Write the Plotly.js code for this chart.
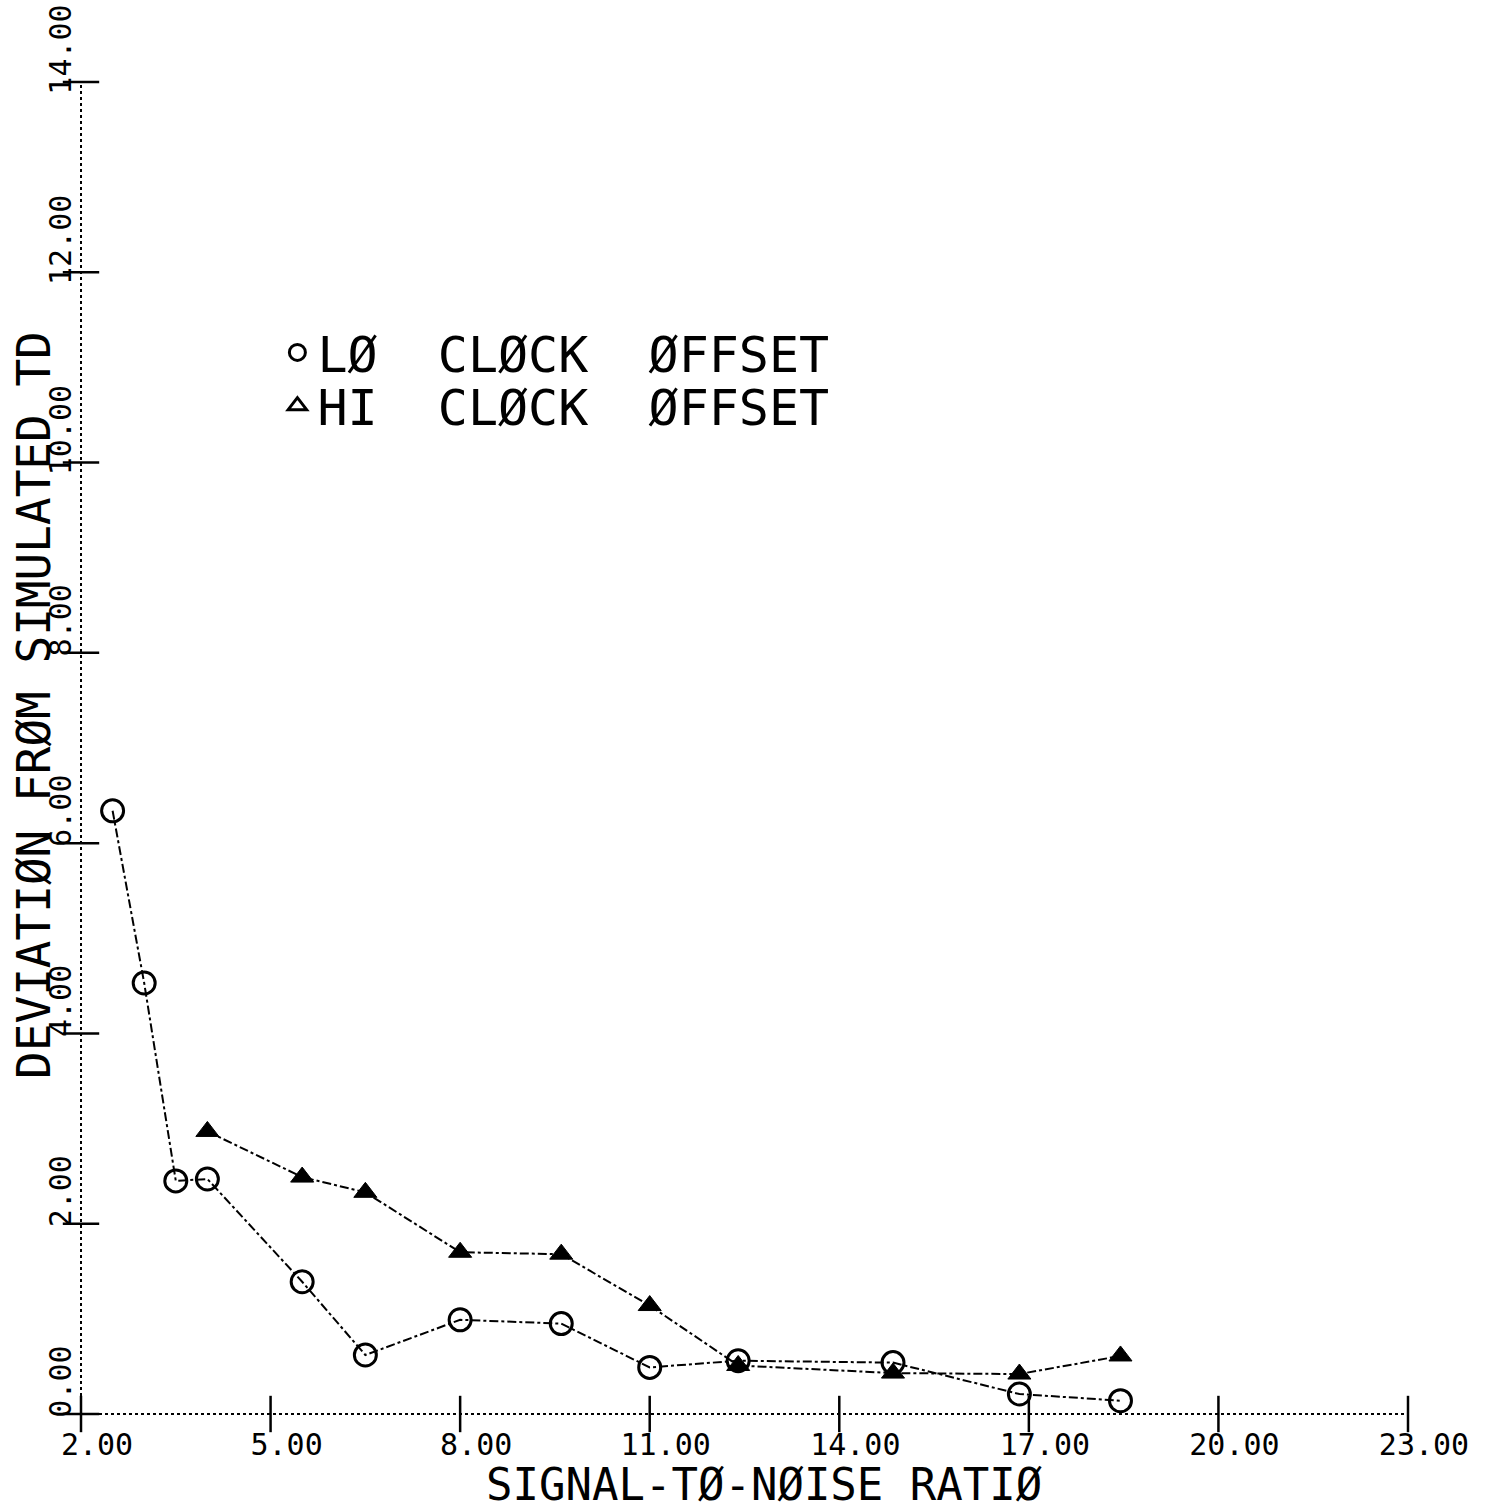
<!DOCTYPE html>
<html>
<head>
<meta charset="utf-8">
<script src="https://cdn.plot.ly/plotly-3.0.1.min.js"></script>
<style>html,body{margin:0;padding:0;background:#fff;}#chart{width:1499px;height:1512px;}</style>
</head>
<body>
<div id="chart"></div>
<script>
// Signal-to-noise ratio (x) and deviation from simulated TD (y)
var snrLo = [2.5, 3.0, 3.5, 4.0, 5.5, 6.5, 8.0, 9.6, 11.0, 12.4, 14.85, 16.85, 18.45];
var devLo = [6.34, 4.53, 2.45, 2.47, 1.39, 0.62, 0.99, 0.95, 0.49, 0.56, 0.54, 0.21, 0.14];
var snrHi = [4.0, 5.5, 6.5, 8.0, 9.6, 11.0, 12.4, 14.85, 16.85, 18.45];
var devHi = [2.97, 2.49, 2.33, 1.70, 1.68, 1.14, 0.51, 0.43, 0.42, 0.61];

var xTicks = [2, 5, 8, 11, 14, 17, 20, 23];
var yTicks = [0, 2, 4, 6, 8, 10, 12, 14];
var xTickLabels = ["2.00", "5.00", "8.00", "11.00", "14.00", "17.00", "20.00", "23.00"];
var yTickLabels = ["0.00", "2.00", "4.00", "6.00", "8.00", "10.00", "12.00", "14.00"];

var seriesNames = ["LØ  CLØCK  ØFFSET", "HI  CLØCK  ØFFSET"];
var xTitle = "SIGNAL-TØ-NØISE RATIØ";
var yTitle = "DEVIATIØN FRØM SIMULATED TD";
var xRange = [2, 23];
var yRange = [0, 14];

var FONT = "DejaVu Sans Mono, Liberation Mono, monospace";

// cross-shaped tick marks, placed on the axes through the library's scales
var xTickBase = xTicks.map(function () { return yRange[0]; });
var yTickBase = yTicks.map(function () { return xRange[0]; });

var traces = [
  {x: xTicks, y: xTickBase, mode: "markers", showlegend: false, hoverinfo: "skip", cliponaxis: false,
   marker: {symbol: "line-ns-open", size: 26, color: "#000", line: {color: "#000", width: 2.5}}},
  {x: yTickBase, y: yTicks, mode: "markers", showlegend: false, hoverinfo: "skip", cliponaxis: false,
   marker: {symbol: "line-ew-open", size: 26, color: "#000", line: {color: "#000", width: 2.5}}},
  {x: snrLo, y: devLo, mode: "lines+markers", showlegend: false, hoverinfo: "skip", cliponaxis: false,
   line: {color: "#000", width: 2, dash: "dashdot"},
   marker: {symbol: "circle-open", size: 22, color: "#000", line: {color: "#000", width: 3}}},
  {x: snrHi, y: devHi, mode: "lines+markers", showlegend: false, hoverinfo: "skip", cliponaxis: false,
   line: {color: "#000", width: 2, dash: "dashdot"},
   marker: {symbol: "triangle-up", size: 20, color: "#000", line: {color: "#000", width: 1}}},
  // legend entries (symbols only)
  {x: [null], y: [null], mode: "markers", name: seriesNames[0], hoverinfo: "skip", legend: "legend",
   marker: {symbol: "circle-open", size: 16, color: "#000", line: {color: "#000", width: 3}}},
  {x: [null], y: [null], mode: "markers", name: seriesNames[1], hoverinfo: "skip", legend: "legend2",
   marker: {symbol: "triangle-up-open", size: 16, color: "#000", line: {color: "#000", width: 3}}}
];

var legendFont = {family: FONT, size: 50, color: "#000"};

var layout = {
  width: 1499, height: 1512,
  paper_bgcolor: "#fff", plot_bgcolor: "#fff",
  margin: {l: 81, r: 91, t: 82, b: 98},
  showlegend: true,
  legend: {x: 0.148, y: 0.797, xanchor: "left", yanchor: "middle",
           font: legendFont, bgcolor: "rgba(0,0,0,0)"},
  legend2: {x: 0.148, y: 0.757, xanchor: "left", yanchor: "middle",
           font: legendFont, bgcolor: "rgba(0,0,0,0)"},
  font: {family: FONT, color: "#000"},
  xaxis: {range: xRange, tickmode: "array", tickvals: xTicks, ticktext: xTickLabels,
          showgrid: false, zeroline: false, showline: false, ticks: "",
          ticklabelshift: 16, ticklabelstandoff: 10,
          tickfont: {family: FONT, size: 30, color: "#000"}},
  yaxis: {range: yRange, tickmode: "array", tickvals: yTicks, ticktext: yTickLabels,
          showgrid: false, zeroline: false, showline: false, ticks: "",
          tickangle: -90, ticklabelshift: -28, ticklabelstandoff: 3,
          tickfont: {family: FONT, size: 30, color: "#000"}},
  shapes: [
    {type: "line", xref: "paper", yref: "paper", x0: 0, x1: 1, y0: 0, y1: 0, layer: "below",
     line: {color: "#000", width: 2, dash: "dot"}},
    {type: "line", xref: "paper", yref: "paper", x0: 0, x1: 0, y0: 0, y1: 1, layer: "below",
     line: {color: "#000", width: 2, dash: "dot"}}
  ],
  annotations: [
    {text: xTitle, xref: "paper", yref: "paper", x: 0.515, y: -0.053, xanchor: "center", yanchor: "middle",
     showarrow: false, font: {family: FONT, size: 44, color: "#000"}},
    {text: yTitle, xref: "paper", yref: "paper", x: -0.035, y: 0.532, xanchor: "center", yanchor: "middle",
     textangle: -90, showarrow: false, font: {family: FONT, size: 46, color: "#000"}}
  ]
};

Plotly.newPlot("chart", traces, layout, {staticPlot: true, displayModeBar: false});
</script>
</body>
</html>
